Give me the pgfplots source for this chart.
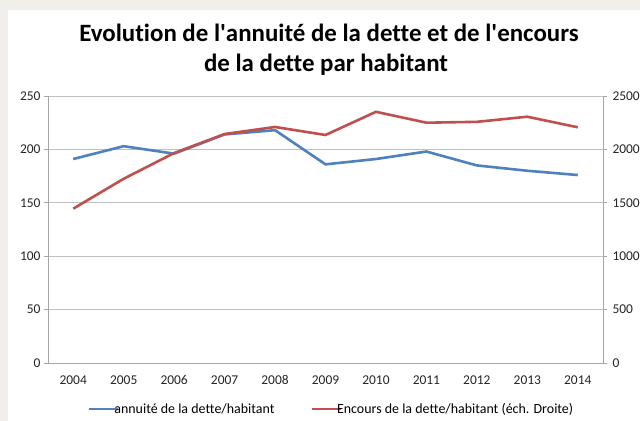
\documentclass[border=0pt]{standalone}
\usepackage{pgfplots}
\pgfplotsset{compat=1.18}
\usepackage{fontspec}
\setmainfont{Carlito}[Ligatures=NoCommon]

\definecolor{xlblue}{HTML}{4F81BD}
\definecolor{xlred}{HTML}{C0504D}
\definecolor{gridgray}{HTML}{BFBFBF}
\definecolor{axgray}{HTML}{A6A6A6}
\definecolor{bgbeige}{HTML}{F2EFEB}

\pgfplotsset{
  common/.style={
    scale only axis,
    width=555bp, height=267bp,
    xmin=-0.5, xmax=10.5,
    ymin=0,
    tick align=outside,
    major tick length=4bp,
    tick style={axgray, line width=0.8bp},
    axis line style={axgray, line width=0.8bp},
    tick label style={font=\fontsize{13.5}{15}\selectfont, text=black!85},
    /pgf/number format/assume math mode=true,
    /pgf/number format/set thousands separator={},
  },
}

\begin{document}
\begin{tikzpicture}
\fill[bgbeige] (-48bp,-58bp) rectangle (592bp,363bp);
\fill[white] (-40bp,-58bp) rectangle (592bp,353bp);
\useasboundingbox (-48bp,-58bp) rectangle (592bp,363bp);

\begin{axis}[common,
  at={(0,0)}, anchor=south west,
  ymax=250, ytick={0,50,...,250},
  axis y line*=left, axis x line*=bottom,
  ymajorgrids, grid style={gridgray, line width=0.8bp},
  xtick={0,...,10},
  xticklabels={2004,2005,2006,2007,2008,2009,2010,2011,2012,2013,2014},
  xtick style={draw=none},
  minor xtick={-0.5,0.5,...,10.5},
  minor tick length=4bp,
  minor x tick style={axgray, line width=0.8bp},
  xticklabel style={yshift=-5bp},
  legend columns=2,
  legend style={at={(0.5,0)}, anchor=center, xshift=6bp, yshift=-46bp, draw=none, fill=none,
    font=\fontsize{14}{16}\selectfont,
    /tikz/every even column/.append style={column sep=34bp}},
  legend image code/.code={\draw[#1] (0bp,0bp) -- (29bp,0bp);},
  legend image post style={line width=2.6bp},
  legend cell align=left,
]
\addplot[xlblue, line width=2.6bp] coordinates {
  (0,191) (1,203) (2,196) (3,214) (4,218) (5,186) (6,191) (7,198) (8,185) (9,180) (10,176)
};
\addlegendentry{\hspace{-7bp}annuité de la dette/habitant}
\addlegendimage{xlred}
\addlegendentry{\hspace{-7bp}Encours de la dette/habitant (éch. Droite)}
\end{axis}

\begin{axis}[common,
  at={(0,0)}, anchor=south west,
  ymax=2500, ytick={0,500,...,2500},
  axis y line*=right, axis x line=none,
  yticklabel style={anchor=west, xshift=2bp},
]
\addplot[xlred, line width=2.6bp] coordinates {
  (0,1445) (1,1725) (2,1966) (3,2144) (4,2210) (5,2135) (6,2352) (7,2250) (8,2258) (9,2306) (10,2207)
};
\end{axis}

\node[font=\bfseries\fontsize{25}{30}\selectfont, anchor=base] at (281bp,321bp) {Evolution de l\textquotesingle annuité de la dette et de l\textquotesingle encours};
\node[font=\bfseries\fontsize{25}{30}\selectfont, anchor=base] at (278bp,291bp) {de la dette par habitant};
\end{tikzpicture}
\end{document}
